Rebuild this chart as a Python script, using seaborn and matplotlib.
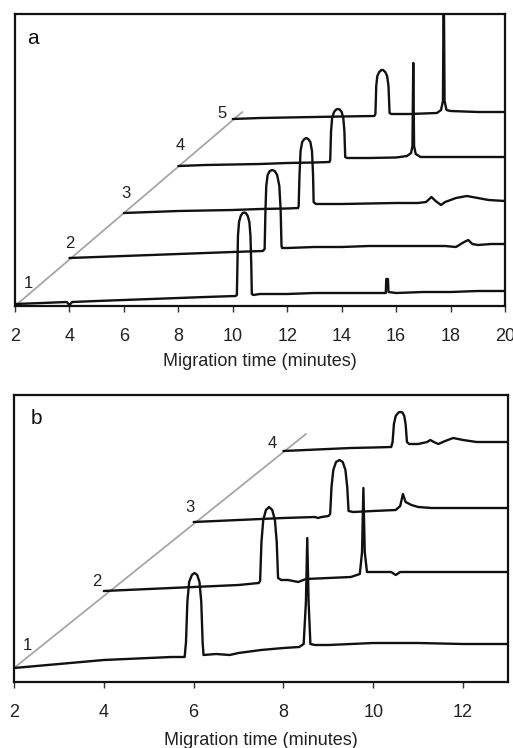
import matplotlib
matplotlib.use("Agg")
import matplotlib.pyplot as plt
import seaborn as sns
import pandas as pd

# ---------------- Panel a data (migration time, signal in arbitrary units) ----------------
a1_t = [2, 3, 3.9, 4.0, 4.1, 5, 6, 7, 8, 9, 10.1, 10.15, 10.17, 10.19, 10.23, 10.29, 10.36, 10.42, 10.48,
        10.55, 10.61, 10.65, 10.68, 10.7, 10.75, 11, 12, 13, 14, 15, 15.62, 15.64, 15.7, 15.72, 16, 17, 18, 19, 20]
a1_y = [2, 3, 4, 1, 4, 5, 6, 7, 8, 9, 10, 11, 40, 70, 84, 90, 93, 93.5, 93, 90, 84, 70, 40, 12, 11, 12, 12,
        13, 13, 13, 13, 27, 27, 14, 13, 14, 14, 15, 15]

a2_t = [4, 5, 6, 7, 8, 9, 10, 11.1, 11.17, 11.2, 11.23, 11.28, 11.36, 11.45, 11.54, 11.63, 11.71, 11.76,
        11.79, 11.81, 11.85, 12, 13, 14, 15, 16, 17, 17.8, 18.2, 18.5, 18.65, 18.8, 19, 19.5, 20]
a2_y = [48, 49, 50, 51, 52, 53, 54, 55, 57, 95, 120, 131, 135, 136, 135, 131, 120, 95, 60, 58, 58, 58, 59,
        59, 60, 60, 60, 60, 59, 64, 66, 62, 61, 62, 62]

a3_t = [6, 7, 8, 9, 10, 11, 12, 12.4, 12.42, 12.45, 12.49, 12.55, 12.63, 12.7, 12.77, 12.85, 12.91, 12.95,
        12.97, 13.05, 14, 15, 16, 16.8, 17.1, 17.3, 17.45, 17.65, 17.8, 18.2, 18.6, 19, 19.4, 20]
a3_y = [93, 94, 95, 95.5, 96, 97, 97.5, 98, 100, 130, 155, 164, 167, 168, 167, 164, 155, 130, 104, 102, 102,
        102.5, 103, 103, 104, 109, 105, 101, 104, 108, 110, 108, 106, 105]

a4_t = [8, 9, 10, 11, 12, 13, 13.55, 13.58, 13.61, 13.65, 13.72, 13.8, 13.86, 13.93, 14.0, 14.06, 14.1,
        14.13, 14.2, 15, 16, 16.4, 16.55, 16.6, 16.63, 16.66, 16.72, 16.9, 18, 19, 20]
a4_y = [140, 141, 141.5, 142, 143, 143.5, 144, 146, 175, 188, 194, 196.5, 197, 196.5, 194, 188, 175, 149,
        148, 148, 148.5, 150, 153, 160, 243, 160, 152, 149, 149, 149, 149]

a5_t = [10, 11, 12, 13, 14, 15.2, 15.24, 15.27, 15.31, 15.38, 15.46, 15.52, 15.6, 15.67, 15.72, 15.76,
        15.82, 16.5, 17, 17.5, 17.65, 17.72, 17.75, 17.78, 17.85, 18, 19, 20]
a5_y = [187, 188, 188.5, 189, 189.5, 190, 192, 220, 230, 234, 236, 236, 234, 230, 220, 193, 192, 192,
        192.5, 193, 196, 205, 330, 205, 196, 195, 194, 194]

a_diag_t = [2, 10.35]
a_diag_y = [0, 194]
a_labels = ["1", "2", "3", "4", "5"]
a_label_t = [2.5, 4.0, 6.08, 8.07, 9.6]
a_label_y = [22, 62, 112, 160, 192]
a_ticks = [2, 4, 6, 8, 10, 12, 14, 16, 18, 20]

# ---------------- Panel b data ----------------
b1_t = [2, 2.5, 3, 3.5, 4, 4.5, 5, 5.5, 5.8, 5.83, 5.86, 5.9, 5.96, 6.02, 6.08, 6.13, 6.17, 6.2, 6.22,
        6.5, 6.8, 7, 7.5, 8, 8.35, 8.45, 8.5, 8.53, 8.56, 8.6, 8.7, 9, 10, 11, 12, 13]
b1_y = [14, 16, 18, 20, 22, 23, 24, 25, 25, 40, 80, 100, 107, 109, 107, 100, 80, 40, 27, 28, 27, 29, 32,
        34, 35, 38, 80, 144, 80, 38, 37, 37, 39, 39, 38, 38]

b2_t = [4, 5, 6, 7, 7.45, 7.48, 7.51, 7.55, 7.61, 7.68, 7.75, 7.81, 7.85, 7.88, 7.95, 8.1, 8.33, 8.5, 9,
        9.5, 9.7, 9.75, 9.78, 9.81, 9.86, 10, 10.4, 10.5, 10.6, 11, 12, 13]
b2_y = [91, 93, 95, 97, 99, 101, 140, 162, 172, 175, 172, 162, 140, 104, 102, 102, 100, 103, 104, 105,
        108, 130, 194, 130, 110, 110, 110, 107, 110, 110, 110, 110]

b3_t = [6, 7, 8, 8.7, 8.77, 8.85, 9.0, 9.04, 9.07, 9.11, 9.17, 9.25, 9.32, 9.38, 9.42, 9.45, 9.55, 10,
        10.5, 10.6, 10.66, 10.72, 10.85, 11, 11.3, 12, 13]
b3_y = [160, 162, 164, 165, 164, 165, 166, 168, 195, 212, 220, 222, 220, 212, 195, 171, 170, 171, 172,
        176, 188, 180, 177, 175, 174, 174, 174]

b4_t = [8, 8.5, 9, 9.5, 10, 10.4, 10.43, 10.46, 10.5, 10.56, 10.6, 10.65, 10.69, 10.72, 10.75, 10.8, 11,
        11.2, 11.27, 11.35, 11.45, 11.6, 11.78, 12, 12.3, 13]
b4_y = [231, 232, 233, 234, 234.5, 235, 240, 258, 266, 269.5, 270, 269.5, 266, 258, 240, 238, 238, 240,
        242, 240, 238, 241, 244, 242, 240, 240]

b_diag_t = [2, 8.5]
b_diag_y = [14, 248]
b_labels = ["1", "2", "3", "4"]
b_label_t = [2.29, 3.85, 5.92, 7.75]
b_label_y = [37, 100, 174, 239]
b_ticks = [2, 4, 6, 8, 10, 12]

xlabel = "Migration time (minutes)"

# ---------------- Drawing ----------------
sns.set_style("ticks")
plt.rcParams["font.family"] = ["Liberation Sans", "DejaVu Sans"]

fig = plt.figure(figsize=(5.13, 7.48), dpi=100)
W, H = 513, 748
ax_a = fig.add_axes([15 / W, (H - 306) / H, 490 / W, 292 / H])
ax_b = fig.add_axes([14 / W, (H - 682) / H, 494 / W, 287 / H])

TRACE = "#111111"
GRAY = "#a6a6a6"


def draw_panel(ax, traces, diag_t, diag_y, labels, lab_t, lab_y, ticks, xlim, ylim, tag, tag_xy, lpad):
    sns.lineplot(x=diag_t, y=diag_y, ax=ax, color=GRAY, lw=1.3, estimator=None, sort=False)
    for t, y in traces:
        df = pd.DataFrame({"t": t, "y": y})
        sns.lineplot(data=df, x="t", y="y", ax=ax, color=TRACE, lw=1.7, estimator=None, sort=False)
    for s, tx, ty in zip(labels, lab_t, lab_y):
        ax.text(tx, ty, s, ha="center", va="center", fontsize=12, color="#222222")
    ax.text(tag_xy[0], tag_xy[1], tag, ha="center", va="center", fontsize=15, color="#111111")
    ax.set_xlim(*xlim)
    ax.set_ylim(*ylim)
    ax.set_xticks(ticks)
    ax.set_xticklabels([str(v) for v in ticks])
    ax.set_yticks([])
    ax.set_xlabel(xlabel, fontsize=13, color="#222222", labelpad=lpad)
    ax.set_ylabel("")
    ax.tick_params(axis="x", direction="out", length=4, width=1.0, pad=11.5, labelsize=13,
                   labelcolor="#222222", color="#333333")
    for sp in ax.spines.values():
        sp.set_visible(True)
        sp.set_color("#111111")
        sp.set_linewidth(1.6)


draw_panel(ax_a, [(a1_t, a1_y), (a2_t, a2_y), (a3_t, a3_y), (a4_t, a4_y), (a5_t, a5_y)],
           a_diag_t, a_diag_y, a_labels, a_label_t, a_label_y, a_ticks, (2, 20), (0, 292), "a", (2.66, 267), 6)
draw_panel(ax_b, [(b1_t, b1_y), (b2_t, b2_y), (b3_t, b3_y), (b4_t, b4_y)],
           b_diag_t, b_diag_y, b_labels, b_label_t, b_label_y, b_ticks, (2, 13), (0, 287), "b", (2.51, 264), 8)

fig.savefig("out.png", dpi=100)
